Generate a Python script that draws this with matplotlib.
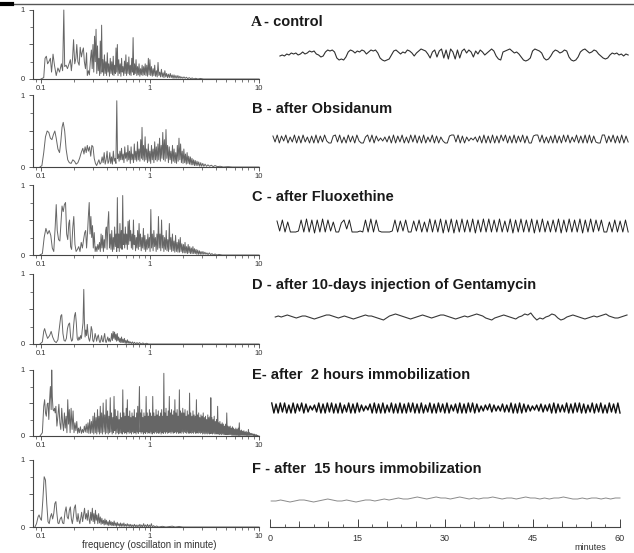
import numpy as np
import matplotlib.pyplot as plt
from matplotlib.lines import Line2D
from matplotlib.ticker import LogLocator, NullFormatter, FixedLocator, MultipleLocator

plt.rcParams['font.family'] = ['Liberation Sans', 'DejaVu Sans']

# ---- spectra (frequency in oscillations/minute, normalised amplitude) ----
spec_A = [(0.100,0.00),(0.106,0.02),(0.109,0.30),(0.112,0.33),(0.115,0.22),(0.118,0.25),(0.122,0.30),(0.125,0.10),
          (0.129,0.36),(0.133,0.20),(0.138,0.05),(0.143,0.16),(0.148,0.10),(0.154,0.22),(0.158,0.12),(0.162,1.00),
          (0.165,0.18),(0.170,0.20),(0.175,0.15),(0.181,0.22),(0.186,0.28),(0.190,0.12),(0.195,0.30),(0.199,0.57),
          (0.204,0.22),(0.209,0.30),(0.213,0.50),(0.218,0.25),(0.224,0.20),(0.229,0.46),(0.235,0.32),(0.240,0.40),
          (0.245,0.45),(0.250,0.25),(0.256,0.15),(0.262,0.38),(0.266,0.05),(0.272,0.12),(0.278,0.06),(0.285,0.30),
          (0.290,0.42),(0.295,0.15),(0.300,0.50),(0.305,0.10),(0.310,0.62),(0.315,0.25),(0.320,0.72),(0.325,0.08),
          (0.330,0.48),(0.335,0.12),(0.340,0.30),(0.345,0.05),(0.350,0.55),(0.355,0.08),(0.360,0.78),(0.365,0.10),
          (0.370,0.28),(0.376,0.05),(0.382,0.35),(0.388,0.08),(0.394,0.25),(0.400,0.05),(0.406,0.38),(0.412,0.10),
          (0.418,0.22),(0.425,0.04),(0.432,0.30),(0.439,0.08),(0.446,0.25),(0.453,0.06),(0.460,0.33),(0.467,0.05),
          (0.474,0.20),(0.481,0.08),(0.488,0.45),(0.495,0.10),(0.502,0.50),(0.509,0.05),(0.517,0.28),(0.525,0.08),
          (0.533,0.22),(0.541,0.04),(0.549,0.30),(0.557,0.10),(0.565,0.18),(0.574,0.05),(0.583,0.26),(0.592,0.08),
          (0.601,0.35),(0.610,0.05),(0.620,0.24),(0.630,0.08),(0.640,0.32),(0.650,0.06),(0.660,0.20),(0.670,0.05),
          (0.680,0.30),(0.690,0.10),(0.700,0.60),(0.711,0.06),(0.722,0.22),(0.733,0.08),(0.745,0.28),(0.757,0.05),
          (0.769,0.18),(0.781,0.06),(0.794,0.22),(0.807,0.04),(0.820,0.15),(0.833,0.06),(0.847,0.20),(0.861,0.05),
          (0.875,0.18),(0.889,0.06),(0.904,0.22),(0.919,0.05),(0.934,0.20),(0.950,0.04),(0.966,0.30),(0.982,0.06),
          (0.998,0.28),(1.015,0.05),(1.032,0.18),(1.050,0.04),(1.068,0.15),(1.086,0.05),(1.105,0.20),(1.124,0.04),
          (1.144,0.12),(1.164,0.03),(1.185,0.24),(1.206,0.05),(1.228,0.10),(1.250,0.03),(1.273,0.14),(1.296,0.03),
          (1.320,0.09),(1.344,0.02),(1.369,0.12),(1.395,0.03),(1.421,0.08),(1.448,0.02),(1.476,0.07),(1.505,0.02),
          (1.535,0.08),(1.565,0.02),(1.596,0.06),(1.628,0.01),(1.661,0.06),(1.695,0.01),(1.730,0.05),(1.766,0.01),
          (1.803,0.05),(1.841,0.01),(1.880,0.04),(1.920,0.01),(1.960,0.03),(2.000,0.01),(2.050,0.03),(2.100,0.01),
          (2.160,0.025),(2.220,0.005),(2.290,0.02),(2.360,0.005),(2.440,0.015),(2.520,0.0),(2.620,0.01),(2.750,0.0),
          (2.900,0.008),(3.100,0.0),(10.0,0.0)]

spec_B = [(0.098,0.00),(0.102,0.02),(0.106,0.20),(0.110,0.42),(0.114,0.50),(0.118,0.48),(0.122,0.40),(0.126,0.38),
          (0.130,0.45),(0.134,0.50),(0.138,0.40),(0.143,0.25),(0.148,0.20),(0.152,0.35),(0.156,0.55),(0.160,0.62),
          (0.165,0.50),(0.170,0.25),(0.176,0.10),(0.182,0.06),(0.189,0.05),(0.196,0.10),(0.203,0.08),(0.210,0.04),
          (0.218,0.06),(0.226,0.12),(0.234,0.20),(0.242,0.26),(0.248,0.18),(0.254,0.28),(0.260,0.20),(0.266,0.30),
          (0.272,0.22),(0.279,0.28),(0.286,0.15),(0.293,0.30),(0.300,0.28),(0.308,0.12),(0.316,0.05),(0.324,0.02),
          (0.332,0.06),(0.340,0.10),(0.348,0.04),(0.356,0.06),(0.364,0.14),(0.372,0.06),(0.380,0.20),(0.388,0.04),
          (0.396,0.10),(0.404,0.22),(0.412,0.05),(0.420,0.08),(0.428,0.20),(0.436,0.05),(0.444,0.14),(0.452,0.04),
          (0.461,0.22),(0.470,0.08),(0.479,0.12),(0.487,0.05),(0.496,0.92),(0.504,0.12),(0.512,0.18),(0.521,0.08),
          (0.530,0.22),(0.539,0.10),(0.548,0.26),(0.557,0.10),(0.567,0.18),(0.577,0.06),(0.587,0.28),(0.597,0.12),
          (0.607,0.20),(0.617,0.08),(0.627,0.30),(0.638,0.10),(0.649,0.22),(0.660,0.05),(0.671,0.28),(0.682,0.10),
          (0.694,0.18),(0.706,0.06),(0.718,0.32),(0.730,0.10),(0.742,0.22),(0.755,0.08),(0.768,0.35),(0.781,0.10),
          (0.794,0.25),(0.808,0.08),(0.822,0.38),(0.836,0.12),(0.845,0.55),(0.858,0.10),(0.872,0.30),(0.887,0.08),
          (0.902,0.42),(0.917,0.10),(0.933,0.25),(0.949,0.06),(0.965,0.32),(0.981,0.08),(0.998,0.22),(1.015,0.05),
          (1.032,0.30),(1.050,0.10),(1.068,0.25),(1.086,0.06),(1.105,0.35),(1.124,0.10),(1.143,0.28),(1.163,0.08),
          (1.183,0.32),(1.203,0.10),(1.224,0.40),(1.245,0.08),(1.266,0.30),(1.288,0.12),(1.310,0.48),(1.332,0.10),
          (1.355,0.38),(1.378,0.08),(1.402,0.52),(1.426,0.12),(1.451,0.30),(1.476,0.06),(1.502,0.28),(1.528,0.10),
          (1.554,0.22),(1.581,0.05),(1.608,0.30),(1.636,0.08),(1.664,0.25),(1.693,0.06),(1.722,0.20),(1.752,0.05),
          (1.782,0.30),(1.813,0.08),(1.845,0.40),(1.877,0.10),(1.909,0.32),(1.942,0.06),(1.976,0.22),(2.010,0.05),
          (2.045,0.25),(2.080,0.06),(2.116,0.18),(2.153,0.04),(2.190,0.20),(2.228,0.05),(2.267,0.15),(2.306,0.04),
          (2.346,0.14),(2.387,0.03),(2.428,0.12),(2.470,0.03),(2.513,0.10),(2.557,0.02),(2.600,0.09),(2.650,0.02),
          (2.700,0.08),(2.750,0.02),(2.800,0.07),(2.860,0.01),(2.920,0.06),(2.980,0.01),(3.050,0.05),(3.120,0.01),
          (3.200,0.04),(3.300,0.01),(3.400,0.03),(3.520,0.01),(3.650,0.025),(3.800,0.005),(3.950,0.02),(4.150,0.005),
          (4.400,0.01),(4.700,0.0),(5.200,0.005),(5.700,0.0),(10.0,0.0)]

spec_C = [(0.098,0.00),(0.103,0.02),(0.107,0.25),(0.111,0.38),(0.115,0.30),(0.119,0.35),(0.123,0.28),(0.127,0.10),
          (0.131,0.05),(0.135,0.40),(0.138,0.72),(0.141,0.35),(0.145,0.22),(0.149,0.20),(0.153,0.50),(0.156,0.70),
          (0.160,0.62),(0.164,0.72),(0.168,0.75),(0.172,0.30),(0.176,0.22),(0.180,0.45),(0.183,0.50),(0.187,0.12),
          (0.191,0.08),(0.196,0.40),(0.200,0.55),(0.205,0.15),(0.210,0.05),(0.216,0.08),(0.222,0.12),(0.228,0.05),
          (0.234,0.18),(0.240,0.10),(0.246,0.22),(0.252,0.32),(0.257,0.35),(0.262,0.10),(0.267,0.30),(0.272,0.55),
          (0.277,0.75),(0.282,0.30),(0.287,0.55),(0.292,0.25),(0.297,0.42),(0.302,0.10),(0.308,0.32),(0.314,0.05),
          (0.320,0.12),(0.326,0.05),(0.332,0.15),(0.338,0.08),(0.344,0.18),(0.350,0.05),(0.356,0.30),(0.362,0.10),
          (0.368,0.28),(0.374,0.05),(0.380,0.22),(0.386,0.10),(0.392,0.35),(0.398,0.40),(0.404,0.08),(0.411,0.45),
          (0.418,0.62),(0.425,0.10),(0.432,0.30),(0.439,0.08),(0.446,0.35),(0.453,0.05),(0.460,0.25),(0.467,0.08),
          (0.474,0.40),(0.481,0.12),(0.488,0.30),(0.495,0.05),(0.502,0.82),(0.509,0.10),(0.516,0.30),(0.523,0.05),
          (0.530,0.45),(0.538,0.10),(0.546,0.35),(0.554,0.08),(0.562,0.85),(0.570,0.15),(0.578,0.30),(0.586,0.10),
          (0.594,0.40),(0.602,0.15),(0.611,0.30),(0.620,0.08),(0.629,0.48),(0.638,0.15),(0.647,0.50),(0.656,0.20),
          (0.665,0.35),(0.675,0.10),(0.685,0.30),(0.695,0.08),(0.705,0.50),(0.715,0.15),(0.726,0.28),(0.737,0.06),
          (0.748,0.25),(0.759,0.10),(0.770,0.35),(0.782,0.08),(0.794,0.45),(0.806,0.12),(0.818,0.30),(0.831,0.06),
          (0.844,0.25),(0.857,0.10),(0.870,0.38),(0.884,0.08),(0.898,0.28),(0.912,0.05),(0.926,0.22),(0.941,0.08),
          (0.956,0.30),(0.971,0.10),(0.986,0.25),(1.002,0.05),(1.018,0.65),(1.034,0.10),(1.051,0.30),(1.068,0.06),
          (1.085,0.35),(1.103,0.12),(1.121,0.25),(1.139,0.05),(1.158,0.30),(1.177,0.08),(1.196,0.55),(1.216,0.10),
          (1.236,0.30),(1.256,0.06),(1.277,0.50),(1.298,0.10),(1.319,0.28),(1.341,0.05),(1.363,0.25),(1.386,0.08),
          (1.409,0.35),(1.432,0.06),(1.456,0.22),(1.480,0.05),(1.505,0.45),(1.530,0.08),(1.555,0.25),(1.581,0.05),
          (1.607,0.30),(1.634,0.06),(1.661,0.20),(1.689,0.04),(1.717,0.28),(1.746,0.05),(1.775,0.18),(1.805,0.04),
          (1.835,0.22),(1.866,0.04),(1.897,0.25),(1.929,0.05),(1.961,0.16),(1.994,0.03),(2.027,0.15),(2.061,0.03),
          (2.096,0.18),(2.131,0.03),(2.167,0.12),(2.203,0.02),(2.240,0.15),(2.278,0.03),(2.316,0.12),(2.355,0.02),
          (2.395,0.10),(2.435,0.02),(2.476,0.12),(2.518,0.02),(2.560,0.09),(2.603,0.02),(2.647,0.08),(2.692,0.01),
          (2.740,0.07),(2.790,0.01),(2.840,0.06),(2.890,0.01),(2.940,0.05),(3.000,0.01),(3.060,0.05),(3.120,0.01),
          (3.190,0.04),(3.260,0.01),(3.330,0.03),(3.410,0.005),(3.500,0.03),(3.600,0.005),(3.700,0.02),(3.820,0.0),
          (3.950,0.015),(4.100,0.0),(4.300,0.008),(4.600,0.0),(10.0,0.0)]

spec_D = [(0.098,0.00),(0.103,0.03),(0.106,0.18),(0.108,0.22),(0.111,0.15),(0.115,0.08),(0.120,0.12),(0.124,0.18),
          (0.128,0.10),(0.133,0.04),(0.138,0.02),(0.143,0.06),(0.148,0.25),(0.152,0.40),(0.155,0.42),(0.159,0.15),
          (0.163,0.05),(0.167,0.04),(0.171,0.08),(0.175,0.22),(0.179,0.28),(0.183,0.30),(0.187,0.10),(0.191,0.04),
          (0.195,0.06),(0.199,0.25),(0.203,0.40),(0.207,0.45),(0.211,0.30),(0.215,0.08),(0.219,0.05),(0.223,0.10),
          (0.227,0.06),(0.231,0.12),(0.235,0.08),(0.239,0.20),(0.243,0.30),(0.247,0.78),(0.250,0.35),(0.254,0.10),
          (0.258,0.20),(0.262,0.12),(0.266,0.28),(0.270,0.15),(0.274,0.08),(0.279,0.04),(0.284,0.10),(0.289,0.25),
          (0.294,0.20),(0.299,0.05),(0.304,0.03),(0.309,0.08),(0.314,0.15),(0.319,0.10),(0.324,0.04),(0.330,0.10),
          (0.336,0.13),(0.342,0.05),(0.348,0.02),(0.354,0.06),(0.360,0.12),(0.366,0.04),(0.372,0.03),(0.378,0.10),
          (0.384,0.15),(0.390,0.05),(0.396,0.02),(0.403,0.06),(0.410,0.10),(0.417,0.04),(0.424,0.08),(0.431,0.03),
          (0.438,0.06),(0.445,0.15),(0.452,0.05),(0.459,0.18),(0.466,0.08),(0.473,0.17),(0.480,0.06),(0.487,0.14),
          (0.494,0.04),(0.501,0.15),(0.508,0.05),(0.516,0.10),(0.524,0.03),(0.532,0.08),(0.540,0.02),(0.548,0.10),
          (0.556,0.02),(0.565,0.07),(0.574,0.02),(0.583,0.08),(0.592,0.01),(0.601,0.05),(0.611,0.01),(0.621,0.06),
          (0.631,0.01),(0.641,0.04),(0.652,0.01),(0.663,0.03),(0.674,0.005),(0.690,0.03),(0.705,0.0),(0.720,0.025),
          (0.740,0.0),(0.760,0.02),(0.780,0.0),(0.800,0.02),(0.830,0.0),(0.860,0.015),(0.890,0.0),(0.930,0.01),
          (0.970,0.0),(10.0,0.0)]

spec_E = [(0.098,0.00),(0.103,0.05),(0.106,0.45),(0.108,0.55),(0.110,0.35),(0.112,0.30),(0.114,0.48),(0.116,0.50),
          (0.118,0.25),(0.120,0.55),(0.122,0.75),(0.124,0.40),(0.1255,1.00),(0.127,0.60),(0.129,0.40),(0.131,0.38),
          (0.133,0.42),(0.135,0.35),(0.137,0.45),(0.140,0.15),(0.143,0.30),(0.146,0.48),(0.149,0.20),(0.152,0.10),
          (0.155,0.42),(0.158,0.20),(0.161,0.08),(0.164,0.35),(0.167,0.12),(0.170,0.30),(0.173,0.05),(0.176,0.55),
          (0.179,0.18),(0.182,0.40),(0.185,0.05),(0.189,0.42),(0.193,0.10),(0.197,0.38),(0.201,0.05),(0.205,0.20),
          (0.209,0.08),(0.213,0.22),(0.217,0.04),(0.221,0.12),(0.225,0.05),(0.230,0.14),(0.235,0.04),(0.240,0.10),
          (0.245,0.05),(0.250,0.15),(0.255,0.06),(0.260,0.18),(0.265,0.05),(0.270,0.20),(0.275,0.04),(0.280,0.25),
          (0.285,0.04),(0.290,0.22),(0.295,0.05),(0.300,0.30),(0.305,0.03),(0.310,0.35),(0.315,0.05),(0.320,0.28),
          (0.325,0.03),(0.330,0.40),(0.335,0.06),(0.340,0.30),(0.345,0.03),(0.350,0.45),(0.355,0.05),(0.360,0.35),
          (0.366,0.03),(0.372,0.50),(0.378,0.06),(0.384,0.32),(0.390,0.03),(0.396,0.55),(0.402,0.05),(0.408,0.38),
          (0.414,0.03),(0.420,0.30),(0.426,0.05),(0.432,0.58),(0.438,0.06),(0.444,0.35),(0.450,0.03),(0.456,0.28),
          (0.462,0.05),(0.468,0.60),(0.474,0.08),(0.480,0.40),(0.486,0.03),(0.493,0.30),(0.500,0.05),(0.507,0.38),
          (0.514,0.03),(0.521,0.25),(0.528,0.04),(0.535,0.35),(0.542,0.05),(0.549,0.28),(0.556,0.03),(0.563,0.70),
          (0.570,0.06),(0.577,0.35),(0.584,0.04),(0.591,0.30),(0.598,0.05),(0.605,0.42),(0.612,0.03),(0.620,0.55),
          (0.628,0.06),(0.636,0.30),(0.644,0.04),(0.652,0.38),(0.660,0.05),(0.668,0.28),(0.676,0.03),(0.684,0.35),
          (0.692,0.06),(0.700,0.30),(0.709,0.04),(0.718,0.40),(0.727,0.05),(0.736,0.28),(0.745,0.03),(0.754,0.35),
          (0.763,0.06),(0.772,0.45),(0.781,0.04),(0.790,0.30),(0.800,0.75),(0.810,0.06),(0.820,0.35),(0.830,0.04),
          (0.840,0.40),(0.850,0.06),(0.860,0.28),(0.870,0.03),(0.880,0.35),(0.890,0.05),(0.900,0.30),(0.911,0.04),
          (0.922,0.60),(0.933,0.06),(0.944,0.35),(0.955,0.04),(0.966,0.30),(0.977,0.05),(0.988,0.40),(1.000,0.04),
          (1.012,0.35),(1.024,0.06),(1.036,0.30),(1.048,0.03),(1.060,0.60),(1.072,0.05),(1.085,0.35),(1.098,0.04),
          (1.111,0.30),(1.124,0.06),(1.137,0.40),(1.150,0.04),(1.164,0.32),(1.178,0.05),(1.192,0.38),(1.206,0.04),
          (1.220,0.30),(1.235,0.06),(1.250,0.35),(1.265,0.03),(1.280,0.40),(1.295,0.05),(1.310,0.30),(1.325,0.04),
          (1.340,0.95),(1.355,0.06),(1.371,0.35),(1.387,0.04),(1.403,0.42),(1.419,0.06),(1.436,0.30),(1.453,0.04),
          (1.470,0.38),(1.487,0.05),(1.504,0.60),(1.522,0.06),(1.540,0.35),(1.558,0.04),(1.576,0.40),(1.595,0.06),
          (1.614,0.32),(1.633,0.04),(1.652,0.38),(1.672,0.05),(1.692,0.55),(1.712,0.06),(1.732,0.35),(1.753,0.04),
          (1.774,0.40),(1.795,0.06),(1.816,0.30),(1.838,0.04),(1.860,0.70),(1.882,0.05),(1.905,0.38),(1.928,0.04),
          (1.951,0.35),(1.974,0.06),(1.998,0.42),(2.022,0.04),(2.046,0.35),(2.071,0.06),(2.096,0.40),(2.121,0.05),
          (2.147,0.30),(2.173,0.04),(2.199,0.38),(2.226,0.06),(2.253,0.32),(2.280,0.04),(2.307,0.65),(2.335,0.05),
          (2.363,0.35),(2.392,0.04),(2.421,0.30),(2.450,0.05),(2.480,0.38),(2.510,0.04),(2.540,0.32),(2.571,0.06),
          (2.602,0.30),(2.634,0.04),(2.666,0.55),(2.698,0.05),(2.731,0.32),(2.764,0.04),(2.797,0.35),(2.831,0.05),
          (2.865,0.28),(2.900,0.04),(2.935,0.32),(2.970,0.05),(3.006,0.30),(3.042,0.03),(3.079,0.35),(3.116,0.04),
          (3.154,0.28),(3.192,0.03),(3.231,0.30),(3.270,0.04),(3.310,0.25),(3.350,0.03),(3.390,0.32),(3.431,0.04),
          (3.473,0.28),(3.515,0.03),(3.558,0.30),(3.590,0.04),(3.614,0.58),(3.650,0.04),(3.700,0.28),(3.745,0.03),
          (3.790,0.25),(3.836,0.04),(3.883,0.30),(3.930,0.03),(3.978,0.22),(4.026,0.03),(4.075,0.25),(4.124,0.03),
          (4.174,0.45),(4.225,0.03),(4.276,0.20),(4.328,0.02),(4.380,0.22),(4.433,0.03),(4.487,0.18),(4.541,0.02),
          (4.596,0.20),(4.652,0.03),(4.708,0.18),(4.765,0.02),(4.823,0.15),(4.881,0.02),(4.940,0.18),(5.000,0.02),
          (5.061,0.35),(5.122,0.02),(5.184,0.15),(5.247,0.02),(5.311,0.14),(5.375,0.02),(5.440,0.15),(5.506,0.02),
          (5.573,0.12),(5.640,0.01),(5.708,0.14),(5.777,0.01),(5.847,0.12),(5.918,0.01),(5.990,0.10),(6.063,0.01),
          (6.136,0.12),(6.210,0.01),(6.286,0.10),(6.362,0.01),(6.439,0.12),(6.517,0.01),(6.596,0.20),(6.676,0.01),
          (6.757,0.08),(6.839,0.01),(6.922,0.09),(7.006,0.01),(7.091,0.07),(7.177,0.01),(7.264,0.08),(7.352,0.01),
          (7.441,0.06),(7.531,0.01),(7.622,0.07),(7.714,0.01),(7.808,0.05),(7.902,0.01),(7.998,0.10),(8.095,0.01),
          (8.193,0.05),(8.292,0.01),(8.393,0.04),(8.494,0.01),(8.597,0.04),(8.701,0.01),(8.807,0.03),(8.913,0.005),
          (9.021,0.03),(9.130,0.005),(9.241,0.02),(9.353,0.005),(9.466,0.02),(9.581,0.0),(9.700,0.01),(9.850,0.0),
          (10.0,0.0)]

spec_F = [(0.088,0.00),(0.091,0.05),(0.094,0.15),(0.096,0.18),(0.099,0.12),(0.101,0.10),(0.104,0.40),(0.107,0.75),
          (0.110,0.70),(0.113,0.35),(0.116,0.08),(0.119,0.05),(0.122,0.15),(0.125,0.20),(0.128,0.12),(0.131,0.20),
          (0.134,0.35),(0.137,0.38),(0.140,0.20),(0.143,0.06),(0.146,0.05),(0.150,0.12),(0.154,0.15),(0.158,0.06),
          (0.162,0.05),(0.166,0.22),(0.170,0.30),(0.174,0.15),(0.178,0.12),(0.182,0.25),(0.186,0.30),(0.190,0.12),
          (0.194,0.05),(0.198,0.15),(0.202,0.28),(0.207,0.33),(0.211,0.15),(0.215,0.08),(0.219,0.20),(0.223,0.10),
          (0.227,0.05),(0.231,0.12),(0.236,0.22),(0.241,0.08),(0.246,0.18),(0.251,0.28),(0.256,0.12),(0.261,0.20),
          (0.266,0.10),(0.271,0.25),(0.276,0.12),(0.281,0.05),(0.286,0.22),(0.291,0.10),(0.296,0.28),(0.301,0.08),
          (0.306,0.20),(0.311,0.05),(0.316,0.25),(0.321,0.10),(0.326,0.18),(0.332,0.05),(0.338,0.20),(0.344,0.06),
          (0.350,0.15),(0.356,0.04),(0.362,0.13),(0.368,0.05),(0.374,0.10),(0.380,0.03),(0.386,0.12),(0.392,0.04),
          (0.398,0.10),(0.405,0.03),(0.412,0.08),(0.419,0.02),(0.426,0.10),(0.433,0.03),(0.440,0.08),(0.447,0.02),
          (0.454,0.07),(0.461,0.02),(0.469,0.09),(0.477,0.02),(0.485,0.06),(0.493,0.01),(0.501,0.07),(0.510,0.02),
          (0.519,0.05),(0.528,0.01),(0.537,0.06),(0.546,0.01),(0.556,0.05),(0.566,0.01),(0.576,0.06),(0.586,0.01),
          (0.597,0.04),(0.608,0.01),(0.619,0.05),(0.630,0.01),(0.642,0.04),(0.654,0.005),(0.666,0.04),(0.679,0.005),
          (0.692,0.03),(0.705,0.005),(0.719,0.04),(0.733,0.005),(0.747,0.03),(0.762,0.0),(0.777,0.03),(0.792,0.005),
          (0.808,0.04),(0.824,0.0),(0.840,0.03),(0.857,0.0),(0.874,0.05),(0.892,0.005),(0.910,0.03),(0.929,0.0),
          (0.948,0.04),(0.967,0.0),(0.987,0.03),(1.007,0.0),(1.030,0.05),(1.050,0.0),(1.080,0.02),(1.110,0.0),
          (1.150,0.015),(1.200,0.0),(1.300,0.01),(1.400,0.0),(1.600,0.012),(1.700,0.0),(1.850,0.008),(2.000,0.0),
          (10.0,0.0)]

# ---- 60-minute recordings (relative deflection) ----
trace_A = [-1,0,-1,1,0,2,1,2,0,1,3,1,2,4,3,4,1,0,-2,-1,3,5,4,5,3,-3,-5,-4,-5,-2,3,5,4,2,4,3,5,4,1,3,5,4,5,2,
           -3,-5,-6,-5,-4,0,4,5,3,1,3,2,5,4,2,-1,2,4,6,5,4,1,-3,3,5,-2,4,6,-3,5,-4,6,3,-4,5,-3,4,6,2,5,3,-2,
           4,1,5,3,0,2,4,6,4,-1,-4,-5,3,4,5,6,4,2,3,1,-2,-5,-6,-5,-3,4,6,5,4,2,-3,-5,-4,-1,3,5,4,2,3,5,4,-2,
           -5,-6,-5,-2,3,5,6,4,2,3,5,4,1,-1,-3,-4,-3,0,2,1,2,0,1,-1,1,0]
trace_B = [3,-3,4,-4,3,-2,4,-4,2,-3,4,-4,3,-4,4,-3,2,-4,3,-4,4,-4,3,-3,4,-2,-4,-4,3,4,-3,4,-4,2,-4,4,-3,3,-4,
           4,-2,-4,-4,2,4,-3,4,-4,3,-2,1,-2,2,-3,3,-4,4,-4,3,-3,4,-4,2,-4,4,-3,4,-4,3,-4,4,-4,2,-3,4,-4,3,-4,
           2,-2,-4,-4,3,4,4,-3,4,-4,3,-4,2,-2,1,-1,2,-3,3,-4,4,-4,3,-4,4,-4,3,-4,4,-2,4,-4,3,-4,4,-4,3,-3,4,-4,
           3,-4,-4,3,4,4,-3,4,-4,2,-4,3,-4,4,-4,3,-4,4,-3,4,-4,2,-3,4,-4,3,-4,4,-4,4,-4,3,-3,-4,-4,4,4,-4,3,-3,
           4,-4,3,-4,4,-4,3,-3]
trace_C = [5,-5,6,-6,4,-6,-6,-6,-5,6,-6,7,-6,6,-7,6,-6,7,-6,6,-5,4,-6,-6,3,6,-3,6,-6,-6,-6,-5,-6,6,-6,7,-6,
           6,-5,-6,-6,-6,-6,-5,6,-6,5,-5,6,-6,-6,5,-5,6,-6,4,-6,7,-6,6,-6,7,-7,6,-6,7,-7,6,-6,7,-6,6,-6,7,-7,
           6,-6,7,-6,7,-6,6,-6,7,-6,5,-6,7,-7,6,-6,7,-6,6,-6,7,-7,6,-6,7,-6,5,-6,6,-6,7,-7,6,-6,7,-6,6,-6,7,-7,
           6,-6,7,-6,6,-5,6,-6,-6,4,-6,6,-6,5,-6,6,-6]
trace_D = [0,1,0,1,2,1,0,-1,0,1,1,0,-1,-2,-1,0,1,2,2,1,0,-1,0,1,0,-1,-2,-1,0,1,2,1,1,0,-1,-2,-3,-1,1,2,3,2,
           1,0,-1,-2,-1,0,1,2,1,0,-1,0,1,2,2,1,0,-1,-2,-1,0,1,0,1,2,3,2,1,-1,-2,-3,-1,0,1,2,1,0,-1,-2,0,1,3,2,
           4,0,-3,-1,-2,0,1,3,2,-1,-3,-2,0,1,2,1,0,-1,-2,-1,0,1,0,1,2,3,1,0,-1,-1,0,1,2]
trace_E = [5,-5,4,-5,5,-4,5,-5,3,-5,5,-5,4,-3,5,-5,4,-4,2,-2,3,-4,5,-5,4,-5,5,-4,5,-5,4,-5,5,-5,3,-4,5,-5,4,
           -5,5,-4,3,-3,2,-2,4,-5,5,-5,4,-5,5,-5,3,-4,5,-5,4,-5,5,-5,4,-5,5,-4,5,-5,4,-5,5,-5,3,-4,5,-5,4,-5,
           5,-4,4,-5,5,-5,3,-3,4,-5,5,-5,4,-5,5,-4,5,-5,4,-4,2,-3,3,-2,4,-4,3,-3,2,-3,4,-4,3,-4,5,-5,4,-5,5,-5,
           4,-4,3,-3,2,-2,3,-3,4,-4,3,-3,4,-5,5,-5,4,-4,3,-4,5,-5,4,-5,5,-4,5,-5,4,-5,3,-4,5,-5,4,-4,5,-5,3,-5,
           5,-4,4,-5,5,-5]
trace_F = [-1,-1,0,-1,-2,-1,0,0,-1,-2,-1,0,1,0,-1,-1,0,-1,-2,-1,0,0,-1,0,1,0,1,2,1,1,2,3,2,1,2,3,2,2,1,2,3,
           2,1,2,1,2,2,3,2,1,2,2,1,2,3,2,2,1,2,1,2,2,3,2,1,1,2,1,2,2,1,2,1,2,2]
trace_start = [1.7, 0.5, 1.2, 0.9, 0.3, 0.2]    # minutes
trace_end = [61.4, 61.4, 61.4, 61.2, 60.0, 60.0]

labels = ['B - after Obsidanum', 'C - after Fluoxethine',
          'D - after 10-days injection of Gentamycin', 'E- after  2 hours immobilization',
          'F - after  15 hours immobilization']
freq_ticks = [0.1, 1, 10]
freq_ticklabels = ['0.1', '1', '10']
minute_ticks = [0, 15, 30, 45, 60]

spectra = [spec_A, spec_B, spec_C, spec_D, spec_E, spec_F]
traces = [trace_A, trace_B, trace_C, trace_D, trace_E, trace_F]

# ---- layout (pixels of the 634x553 picture) ----
W, H = 634, 553
rows = [(10, 79), (95, 167), (185, 255), (274, 344), (370, 436), (460, 527)]
trace_mid = [55, 139, 226, 317, 408, 500]
label_y = [22, 109, 197, 285, 375, 469]
trace_col = ['#303030', '#303030', '#202020', '#383838', '#101010', '#8a8a8a']
trace_lw = [0.8, 0.7, 0.7, 0.8, 1.0, 0.7]


def box(x0, x1, yt, yb):
    return [x0 / W, 1 - yb / H, (x1 - x0) / W, (yb - yt) / H]


fig = plt.figure(figsize=(W / 100, H / 100), dpi=100)

for i, (yt, yb) in enumerate(rows):
    # spectrum
    ax = fig.add_axes(box(33, 259, yt, yb))
    f, a = zip(*spectra[i])
    ax.plot(f, a, color='#666666', lw=0.7, clip_on=False)
    ax.set_xscale('log')
    ax.set_xlim(0.0845, 10)
    ax.set_ylim(0, 1)
    for s in ['top', 'right']:
        ax.spines[s].set_visible(False)
    for s in ['left', 'bottom']:
        ax.spines[s].set_color('#444444')
        ax.spines[s].set_linewidth(0.8)
    ax.set_xticks(freq_ticks)
    ax.set_xticklabels(freq_ticklabels)
    ax.xaxis.set_minor_locator(LogLocator(subs=np.arange(2, 10)))
    ax.xaxis.set_minor_formatter(NullFormatter())
    ax.set_yticks([0, 0.5, 1])
    ax.set_yticklabels(['0', '', '1'])
    ax.yaxis.set_minor_locator(FixedLocator([0.25, 0.75]))
    ax.tick_params(which='major', labelsize=5.5, length=3, width=0.6, pad=1.5,
                   color='#444444', labelcolor='#333333')
    ax.tick_params(which='minor', length=2, width=0.5, color='#444444')
    ax.tick_params(axis='y', pad=3)

    # recording
    tx = fig.add_axes(box(270, 620, yt, yb))
    t = np.linspace(trace_start[i], trace_end[i], len(traces[i]))
    tx.plot(t, traces[i], color=trace_col[i], lw=trace_lw[i], clip_on=False)
    tx.set_xlim(0, 60)
    tx.set_ylim(-(yb - trace_mid[i]), trace_mid[i] - yt)
    tx.patch.set_visible(False)
    for s in ['top', 'right', 'left']:
        tx.spines[s].set_visible(False)
    tx.set_yticks([])
    if i < 5:
        tx.spines['bottom'].set_visible(False)
        tx.set_xticks([])
    else:
        tx.spines['bottom'].set_color('#444444')
        tx.spines['bottom'].set_linewidth(0.8)
        tx.set_xticks(minute_ticks)
        tx.xaxis.set_minor_locator(MultipleLocator(2.5))
        tx.tick_params(which='major', direction='in', length=6, width=0.7, labelsize=6.5,
                       pad=5, color='#444444', labelcolor='#333333')
        tx.tick_params(which='minor', direction='in', length=2.5, width=0.6, color='#444444')
        sec = tx.secondary_xaxis('bottom')
        sec.set_xticks(np.arange(5, 60, 5))
        sec.tick_params(direction='in', length=4, width=0.6, color='#444444', labelbottom=False)
        sec.spines['bottom'].set_visible(False)

# condition labels
fig.text(251 / W, 1 - label_y[0] / H, 'A', family='Liberation Serif', fontweight='bold',
         fontsize=11, va='center', ha='left', color='#1a1a1a')
fig.text(264 / W, 1 - label_y[0] / H, '- control', fontweight='bold',
         fontsize=10.5, va='center', ha='left', color='#1a1a1a')
for k, lab in enumerate(labels):
    fig.text(252 / W, 1 - label_y[k + 1] / H, lab, fontweight='bold', fontsize=10.5,
             va='center', ha='left', color='#1a1a1a')

fig.text(149 / W, 1 - 545 / H, 'frequency (oscillaton in minute)', fontsize=7,
         ha='center', va='center', color='#333333')
fig.text(590 / W, 1 - 548 / H, 'minutes', fontsize=6.5, ha='center', va='center', color='#333333')

# frame line at the top
fig.add_artist(Line2D([12 / W, 1], [1 - 4 / H, 1 - 4 / H], color='#555555', lw=1))
fig.add_artist(Line2D([0, 12 / W], [1 - 4 / H, 1 - 4 / H], color='black', lw=3))

fig.savefig('out.png', dpi=100)
